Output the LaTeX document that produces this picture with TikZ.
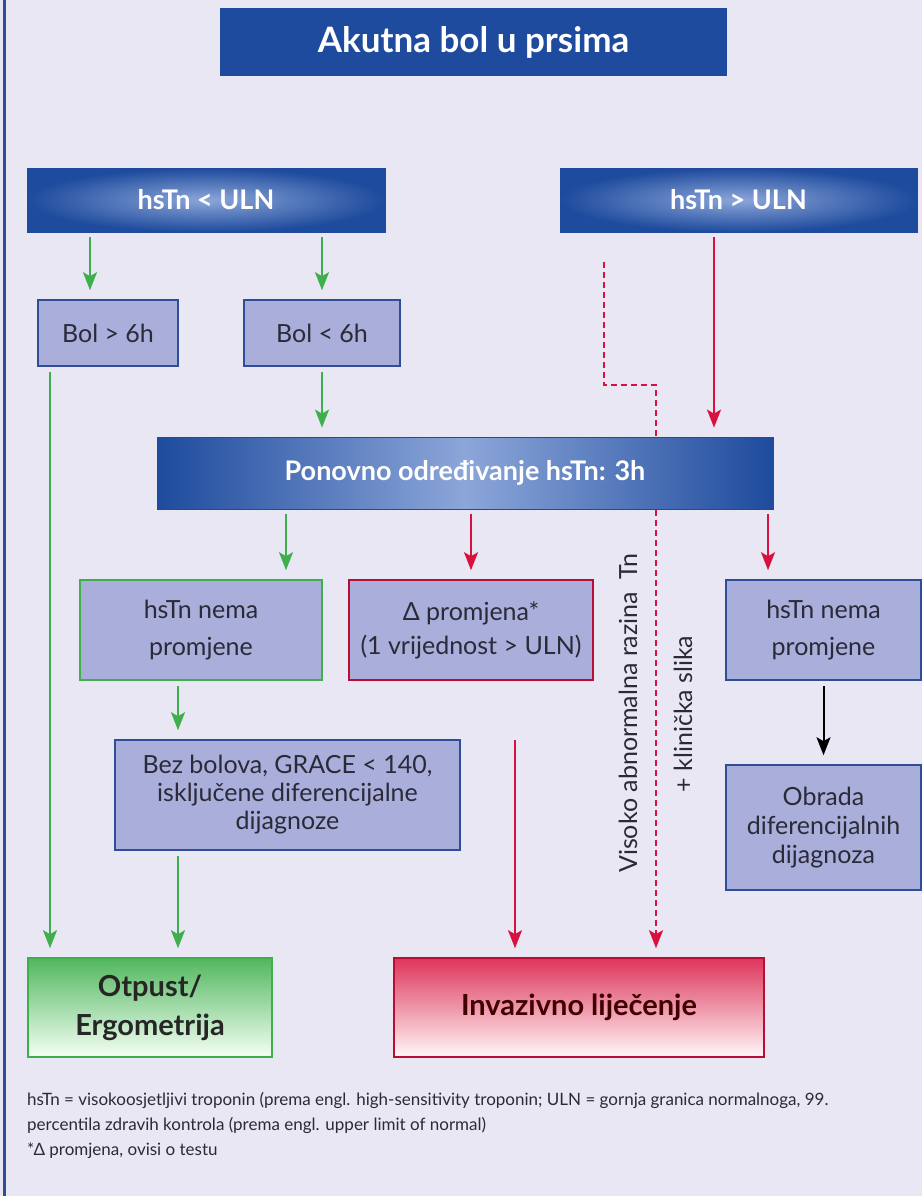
\documentclass[tikz,border=0pt]{standalone}
\usepackage{fontspec}
\setmainfont{Lato}
\usetikzlibrary{arrows.meta}
\definecolor{pagecol}{HTML}{E8E7F3}
\definecolor{darkblue}{HTML}{1E4B9D}
\definecolor{lightblue}{HTML}{8CA6D9}
\definecolor{boxcol}{HTML}{A9AEDA}
\definecolor{boxline}{HTML}{2F4E98}
\definecolor{mygreen}{HTML}{3FAF4C}
\definecolor{myred}{HTML}{D8113F}
\definecolor{textcol}{HTML}{2A2A38}
\pgfdeclarelayer{back}
\pgfsetlayers{back,main}

\tikzset{
    titlebox/.style={fill=darkblue, text=white, inner sep=0pt, minimum width=507pt, minimum height=68pt, font=\bfseries\fontsize{35}{40}\selectfont},
    headbox/.style={draw=darkblue, line width=0.8pt, inner color=lightblue, outer color=darkblue, text=white, inner sep=0pt, minimum height=64pt, font=\bfseries\fontsize{27}{31}\selectfont},
    smallbox/.style={fill=boxcol, draw=boxline, line width=1.6pt, text=textcol, align=center, inner sep=0pt, font=\fontsize{25}{37}\selectfont},
    endbox/.style={line width=1.6pt, align=center, inner sep=0pt, minimum height=99pt, font=\bfseries\fontsize{29}{39}\selectfont},
    garrow/.style={draw=mygreen, line width=2pt, shorten <=5pt, shorten >=9pt, -{Stealth[length=18pt,width=14pt,inset=4pt]}},
    rarrow/.style={garrow, draw=myred},
    karrow/.style={garrow, draw=black},
    sidetext/.style={rotate=90, text=textcol, font=\fontsize{25}{29}\selectfont}
}

\begin{document}
\begin{tikzpicture}[x=1pt, y=-1pt]

    % Page
    \useasboundingbox (0,0) rectangle (922,1196);

    % Title
    \node[titlebox] (title) at (473.5, 42) {Akutna bol u prsima};

    % Troponin on arrival
    \node[headbox, minimum width=358pt] (low) at (206, 200) {hsTn < ULN};
    \node[headbox, minimum width=357pt] (high) at (738.5, 200) {hsTn > ULN};

    % Time from pain onset
    \node[smallbox, minimum width=140pt, minimum height=66pt] (bgt) at (108, 333) {Bol > 6h};
    \node[smallbox, minimum width=156pt, minimum height=66pt] (blt) at (322, 333) {Bol < 6h};

    % Repeated measurement
    \node[headbox, minimum width=616pt, minimum height=72pt, shading=axis, left color=darkblue, right color=darkblue, middle color=lightblue] (rep) at (465, 473) {Ponovno određivanje hsTn: 3h};

    % Results after 3h
    \node[smallbox, draw=mygreen, minimum width=242pt, minimum height=100pt] (nochg) at (201, 630) {hsTn nema\\promjene};
    \node[smallbox, draw=myred!85!black, minimum width=244pt, minimum height=100pt, font=\fontsize{25}{34}\selectfont] (delta) at (471, 630) {Δ promjena*\\(1 vrijednost > ULN)};
    \node[smallbox, minimum width=195pt, minimum height=100pt] (nochg2) at (823.5, 630) {hsTn nema\\promjene};

    \node[smallbox, minimum width=345pt, minimum height=110pt, font=\fontsize{25}{28}\selectfont] (bez) at (287.5, 795) {Bez bolova, GRACE < 140,\\isključene diferencijalne\\dijagnoze};
    \node[smallbox, minimum width=195pt, minimum height=125pt, font=\fontsize{25}{29}\selectfont] (obr) at (823.5, 827.5) {Obrada\\diferencijalnih\\dijagnoza};

    % Rotated notes
    \node[sidetext] (visoko) at (628, 713) {Visoko abnormalna razina\ \ Tn};
    \node[sidetext] (klin) at (683, 714) {+ klinička slika};

    % Outcomes
    \node[endbox, draw=mygreen, top color=mygreen!90, bottom color=green!4!white, text=black!85, minimum width=244pt] (otp) at (150, 1007.5) {Otpust/\\Ergometrija};
    \node[endbox, draw=myred!85!black, top color=myred!85, bottom color=red!3!white, text=red!25!black, minimum width=370pt] (inv) at (579, 1007.5) {Invazivno liječenje};

    % Arrows
    \draw[garrow] ([xshift=-116pt]low.south) -- ([xshift=-18pt]bgt.north);
    \draw[garrow] (low.south -| blt.north) -- (blt.north);
    \draw[garrow] (blt.south) -- (blt.south |- rep.north);
    \draw[rarrow] ([xshift=-24.5pt]high.south) -- ([xshift=-24.5pt]high.south |- rep.north);
    \draw[garrow] ([xshift=-179pt]rep.south) -- ([xshift=85pt]nochg.north);
    \draw[rarrow] (rep.south -| delta.north) -- (delta.north);
    \draw[rarrow] ([xshift=303pt]rep.south) -- ([xshift=-55.5pt]nochg2.north);
    \draw[garrow] ([xshift=-23pt]nochg.south) -- ([xshift=-109.5pt]bez.north);
    \draw[karrow] (nochg2.south) -- (obr.north);
    \draw[garrow] ([xshift=-58pt]bgt.south) -- ([xshift=-100pt]otp.north);
    \draw[garrow] ([xshift=-109.5pt]bez.south) -- ([xshift=28pt]otp.north);
    \coordinate (dtop) at (515, 740);
    \draw[rarrow, shorten <=0pt] (dtop) -- ([xshift=-64pt]inv.north);

    % Dashed path behind the 3h box
    \coordinate (dstart) at (604, 262);
    \coordinate (dbend) at (656, 385);
    \begin{pgfonlayer}{back}
        \fill[pagecol] (0,0) rectangle (922,1196);
        \draw[boxline, line width=3pt] (4,0) -- (4,1196);
        \draw[rarrow, shorten <=0pt, dash pattern=on 6pt off 4pt] (dstart) |- (dbend) -- ([xshift=77pt]inv.north);
    \end{pgfonlayer}

    % Footnote
    \node[anchor=north west, align=left, inner sep=0pt, text=textcol, font=\fontsize{17}{25}\selectfont] (note) at (27, 1092) {hsTn = visokoosjetljivi troponin (prema engl. high-sensitivity troponin; ULN = gornja granica normalnoga, 99.\\percentila zdravih kontrola (prema engl. upper limit of normal)\\*Δ promjena, ovisi o testu};

\end{tikzpicture}
\end{document}
